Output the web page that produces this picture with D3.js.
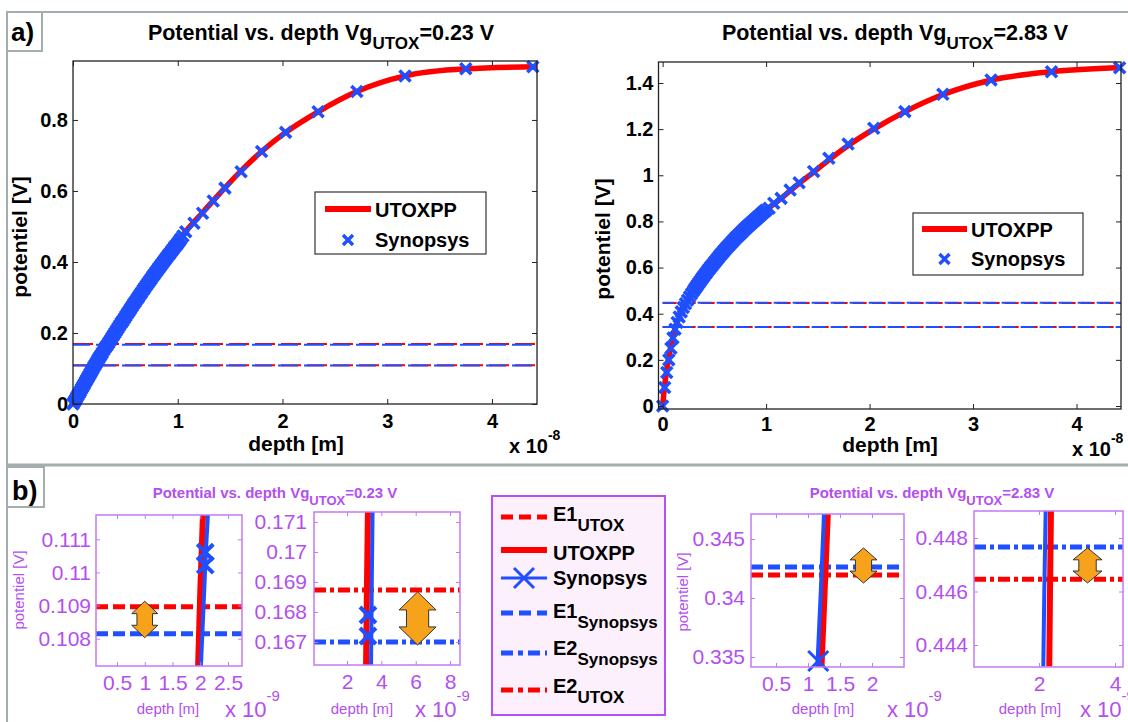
<!DOCTYPE html>
<html>
<head>
<meta charset="utf-8">
<script src="https://cdn.jsdelivr.net/npm/d3@7"></script>
<style>
  body { margin: 0; background: #fff; }
</style>
</head>
<body>
<svg id="fig" width="1128" height="722"></svg>
<script>
// ---------- data, panel a) left : Vg_UTOX = 0.23 V (depth in 1e-8 m, potential in V)
var utoxDepthL = [0, 0.1, 0.21, 0.33, 0.4, 0.5, 0.62, 0.75, 0.86, 1.0, 1.08, 1.24, 1.45, 1.6, 1.8, 2.03, 2.34, 2.71, 3.17, 3.75, 4.43];
var utoxPotL = [0, 0.052, 0.110, 0.168, 0.200, 0.247, 0.300, 0.356, 0.402, 0.457, 0.487, 0.540, 0.609, 0.655, 0.711, 0.765, 0.823, 0.880, 0.924, 0.944, 0.950];
var synDepthL = [0, 0.008, 0.016, 0.024, 0.032, 0.04, 0.05, 0.06, 0.07, 0.08, 0.09, 0.10, 0.11, 0.12, 0.13, 0.14, 0.15, 0.16, 0.17, 0.18,
  0.19, 0.20, 0.21, 0.22, 0.23, 0.24, 0.25, 0.265, 0.28, 0.295, 0.31, 0.325, 0.34, 0.355, 0.37, 0.385, 0.40, 0.415, 0.43, 0.445,
  0.46, 0.475, 0.49, 0.505, 0.52, 0.535, 0.55, 0.565, 0.58, 0.595, 0.61, 0.625, 0.64, 0.655, 0.67, 0.685, 0.70, 0.715, 0.73, 0.745,
  0.76, 0.775, 0.79, 0.805, 0.82, 0.835, 0.85, 0.865, 0.88, 0.895, 0.91, 0.925, 0.94, 0.955, 0.97, 0.985, 1.00, 1.015, 1.03, 1.05,
  1.076, 1.155, 1.237, 1.339, 1.451, 1.605, 1.80, 2.03, 2.34, 2.71, 3.17, 3.75, 4.39];
var synPotL = [0, 0.004, 0.008, 0.012, 0.017, 0.021, 0.026, 0.031, 0.036, 0.042, 0.047, 0.052, 0.057, 0.063, 0.068, 0.073, 0.078, 0.084, 0.089, 0.094,
  0.099, 0.105, 0.110, 0.115, 0.120, 0.125, 0.130, 0.137, 0.144, 0.152, 0.159, 0.165, 0.172, 0.179, 0.186, 0.193, 0.200, 0.207, 0.214, 0.221,
  0.228, 0.234, 0.241, 0.248, 0.255, 0.261, 0.268, 0.275, 0.282, 0.288, 0.295, 0.301, 0.308, 0.314, 0.321, 0.327, 0.334, 0.340, 0.346, 0.352,
  0.359, 0.365, 0.371, 0.377, 0.383, 0.389, 0.395, 0.401, 0.407, 0.413, 0.419, 0.424, 0.430, 0.436, 0.442, 0.447, 0.453, 0.459, 0.465, 0.473,
  0.485, 0.509, 0.537, 0.572, 0.608, 0.654, 0.711, 0.765, 0.823, 0.880, 0.924, 0.944, 0.950];
var e1UtoxL = 0.10896, e1SynL = 0.10815, e2UtoxL = 0.16873, e2SynL = 0.16700;

// ---------- data, panel a) right : Vg_UTOX = 2.83 V
var utoxDepthR = [0, 0.02, 0.04, 0.06, 0.08, 0.1, 0.125, 0.15, 0.185, 0.225, 0.28, 0.34, 0.42, 0.5, 0.58, 0.654, 0.75, 0.85, 0.94, 1.03,
  1.145, 1.232, 1.32, 1.46, 1.61, 1.79, 2.04, 2.34, 2.71, 3.17, 3.76, 4.43];
var utoxPotR = [0, 0.09, 0.16, 0.215, 0.26, 0.30, 0.342, 0.375, 0.413, 0.447, 0.487, 0.527, 0.577, 0.623, 0.666, 0.704, 0.748, 0.79, 0.826, 0.86,
  0.90, 0.933, 0.965, 1.014, 1.068, 1.128, 1.2, 1.275, 1.35, 1.412, 1.449, 1.467];
var synDepthR = [0, 0.02, 0.04, 0.06, 0.08, 0.1, 0.12, 0.14, 0.16, 0.18, 0.2, 0.22, 0.24, 0.26, 0.28,
  0.3, 0.3125, 0.325, 0.3375, 0.35, 0.3625, 0.375, 0.3875, 0.4, 0.4125, 0.425, 0.4375, 0.45, 0.4625, 0.475, 0.4875,
  0.5, 0.5125, 0.525, 0.5375, 0.55, 0.5625, 0.575, 0.5875, 0.6, 0.6125, 0.625, 0.6375, 0.65, 0.6625, 0.675, 0.6875,
  0.7, 0.7125, 0.725, 0.7375, 0.75, 0.7625, 0.775, 0.7875, 0.8, 0.8125, 0.825, 0.8375, 0.85, 0.8625, 0.875, 0.8875,
  0.9, 0.9125, 0.925, 0.9375, 0.95, 0.9625, 0.975, 0.9875, 1.0,
  1.029, 1.074, 1.145, 1.232, 1.319, 1.459, 1.606, 1.792, 2.04, 2.341, 2.708, 3.174, 3.758, 4.417];
var synPotR = [0, 0.08, 0.145, 0.20, 0.25, 0.295, 0.333, 0.362, 0.386, 0.408, 0.427, 0.443, 0.458, 0.473, 0.487,
  0.500, 0.509, 0.517, 0.525, 0.533, 0.541, 0.549, 0.557, 0.564, 0.572, 0.579, 0.587, 0.594, 0.601, 0.608, 0.615,
  0.622, 0.629, 0.636, 0.643, 0.650, 0.657, 0.663, 0.670, 0.676, 0.683, 0.689, 0.695, 0.701, 0.707, 0.713, 0.719,
  0.725, 0.731, 0.736, 0.742, 0.747, 0.753, 0.758, 0.764, 0.769, 0.775, 0.780, 0.785, 0.790, 0.795, 0.800, 0.805,
  0.810, 0.815, 0.820, 0.825, 0.830, 0.835, 0.840, 0.845, 0.849,
  0.857, 0.879, 0.900, 0.936, 0.968, 1.016, 1.074, 1.136, 1.204, 1.276, 1.351, 1.413, 1.449, 1.466];
var e1UtoxR = 0.34195, e1SynR = 0.34263, e2UtoxR = 0.44646, e2SynR = 0.44766;

var xTicksMain = [0, 1, 2, 3, 4];
var yTicksMainL = [0, 0.2, 0.4, 0.6, 0.8];
var yTicksMainR = [0, 0.2, 0.4, 0.6, 0.8, 1, 1.2, 1.4];

// ---------- data, panel b) zooms (depth in 1e-9 m)
var zoomXTicks = [[0.5, 1, 1.5, 2, 2.5], [2, 4, 6, 8], [0.5, 1, 1.5, 2], [2, 4]];
var zoomYTicks = [[0.108, 0.109, 0.11, 0.111], [0.167, 0.168, 0.169, 0.17, 0.171], [0.335, 0.34, 0.345], [0.444, 0.446, 0.448]];
var zoomUtoxDepth = [[1.96, 2.0, 2.05], [3.11, 3.16, 3.22], [1.21, 1.26, 1.31], [2.27, 2.29, 2.315]];
var zoomUtoxPot = [[0.1071, 0.1094, 0.1118], [0.1662, 0.1688, 0.1714], [0.3341, 0.3406, 0.3472], [0.4432, 0.4461, 0.4491]];
var zoomSynDepth = [[2.01, 2.06, 2.09, 2.10, 2.14], [3.40, 3.44, 3.49], [1.145, 1.20, 1.25], [2.113, 2.14, 2.176]];
var zoomSynPot = [[0.1071, 0.1090, 0.1102, 0.1106, 0.1118], [0.1662, 0.1688, 0.1714], [0.3341, 0.3406, 0.3472], [0.4432, 0.4461, 0.4491]];
var zoomSynMarkDepth = [[2.09, 2.09], [3.22, 3.22], [1.16], []];
var zoomSynMarkPot = [[0.11061, 0.11022], [0.1679, 0.1672], [0.33466], []];
// double arrows marking the gap between the two levels
var arrowDepth = [1.0, 6.11, 1.867, 3.276];
var arrowTop = [0.10913, 0.16867, 0.34424, 0.44763];
var arrowBottom = [0.10803, 0.1669, 0.34127, 0.44632];

var legendNames = ["E1", "UTOXPP", "Synopsys", "E1", "E2", "E2"];
var legendSubs = ["UTOX", "", "", "Synopsys", "Synopsys", "UTOX"];

// ---------- style
var FONT = "'Liberation Sans', Arial, Helvetica, sans-serif";
var RED = "#ff0000", BLUE = "#1f4fff", MAG = "#b34ff0", MAGBOX = "#c27af4";
var ORANGE = "#f7a21b", FRAME = "#a3adad";

var svg = d3.select("#fig").attr("font-family", FONT);
svg.append("rect").attr("width", 1128).attr("height", 722).attr("fill", "#fff");

function label(g, x, y, parts, o) {
    var t = g.append("text")
        .attr("x", x).attr("y", y)
        .attr("font-size", o.size)
        .attr("font-weight", o.bold ? "bold" : "normal")
        .attr("fill", o.color || "#000")
        .attr("text-anchor", o.anchor || "start");
    if (o.rotate) t.attr("transform", "rotate(-90," + x + "," + y + ")");
    var shift = 0;
    parts.forEach(function (p) {
        var s = t.append("tspan").text(p.t);
        var want = p.sub ? o.subShift : (p.sup ? -o.supShift : 0);
        if (want !== shift) { s.attr("dy", want - shift); shift = want; }
        if (p.sub || p.sup) s.attr("font-size", o.subSize);
    });
    return t;
}

function xMark(size) {
    return "M" + (-size) + "," + (-size) + "L" + size + "," + size + "M" + (-size) + "," + size + "L" + size + "," + (-size);
}

function zip(a, b) { return a.map(function (v, i) { return [v, b[i]]; }); }

// ---------- frames
svg.append("line").attr("x1", 7).attr("y1", 12).attr("x2", 1128).attr("y2", 12)
    .attr("stroke", FRAME).attr("stroke-width", 2);
svg.append("line").attr("x1", 7).attr("y1", 12).attr("x2", 7).attr("y2", 722)
    .attr("stroke", FRAME).attr("stroke-width", 2);
svg.append("line").attr("x1", 7).attr("y1", 465).attr("x2", 1128).attr("y2", 465)
    .attr("stroke", FRAME).attr("stroke-width", 3);
svg.append("rect").attr("x", 7).attr("y", 12).attr("width", 35).attr("height", 39)
    .attr("fill", "#fff").attr("stroke", FRAME).attr("stroke-width", 2);
svg.append("text").attr("x", 11).attr("y", 41).attr("font-size", 26).attr("font-weight", "bold").text("a)");
svg.append("rect").attr("x", 7).attr("y", 467).attr("width", 37).attr("height", 40)
    .attr("fill", "#fff").attr("stroke", FRAME).attr("stroke-width", 2);
svg.append("text").attr("x", 12).attr("y", 500).attr("font-size", 27).attr("font-weight", "bold").text("b)");

// ---------- main plots
var mainPanels = [
    { id: "L", left: 73, right: 537, top: 61, bottom: 404, xDomain: [0, 4.43], yDomain: [0, 0.966],
      yTicks: yTicksMainL, utoxD: utoxDepthL, utoxP: utoxPotL, synD: synDepthL, synP: synPotL,
      eUtox: [e1UtoxL, e2UtoxL], eSyn: [e1SynL, e2SynL], dash: "20 6", vg: "=0.23 V", padX: 10,
      titleX: 321, ylabX: 27, ylabY: 237, xlabX: 296, xlabY: 451, expX: 509, expY: 453,
      leg: { x: 315, y: 192, w: 171, h: 62, r1: 209, r2: 240, sx: 325, ex: 371, tx: 375 } },
    { id: "R", left: 658.5, right: 1121, top: 62, bottom: 409, xDomain: [-0.04, 4.43], yDomain: [-0.013, 1.491],
      yTicks: yTicksMainR, utoxD: utoxDepthR, utoxP: utoxPotR, synD: synDepthR, synP: synPotR,
      eUtox: [e1UtoxR, e2UtoxR], eSyn: [e1SynR, e2SynR], dash: "14 5", vg: "=2.83 V", padX: 8,
      titleX: 895, ylabX: 610, ylabY: 239, xlabX: 890, xlabY: 452, expX: 1072, expY: 456,
      leg: { x: 913, y: 213, w: 170, h: 62, r1: 229, r2: 259, sx: 922, ex: 967, tx: 971 } }
];

mainPanels.forEach(function (p) {
    var x = d3.scaleLinear().domain(p.xDomain).range([p.left, p.right]);
    var y = d3.scaleLinear().domain(p.yDomain).range([p.bottom, p.top]);
    var g = svg.append("g");
    g.append("clipPath").attr("id", "clip" + p.id).append("rect")
        .attr("x", p.left).attr("y", p.top - 8).attr("width", p.right - p.left + 8).attr("height", p.bottom - p.top + 8);
    var inner = g.append("g").attr("clip-path", "url(#clip" + p.id + ")");

    // E levels, red under blue
    p.eUtox.forEach(function (v) {
        inner.append("line").attr("x1", x(0)).attr("x2", p.right).attr("y1", y(v)).attr("y2", y(v))
            .attr("stroke", RED).attr("stroke-width", 2).attr("stroke-dasharray", p.dash);
    });
    p.eSyn.forEach(function (v) {
        inner.append("line").attr("x1", x(0)).attr("x2", p.right).attr("y1", y(v)).attr("y2", y(v))
            .attr("stroke", BLUE).attr("stroke-width", 2).attr("stroke-dasharray", p.dash)
            .attr("stroke-dashoffset", 3);
    });

    var line = d3.line().x(function (d) { return x(d[0]); }).y(function (d) { return y(d[1]); })
        .curve(d3.curveMonotoneX);
    inner.append("path").datum(zip(p.utoxD, p.utoxP)).attr("d", line)
        .attr("fill", "none").attr("stroke", RED).attr("stroke-width", 5.5);

    g.selectAll("path.syn" + p.id).data(zip(p.synD, p.synP)).enter().append("path")
        .attr("class", "syn" + p.id)
        .attr("transform", function (d) { return "translate(" + x(d[0]) + "," + y(d[1]) + ")"; })
        .attr("d", xMark(5.5)).attr("stroke", BLUE).attr("stroke-width", 3.6).attr("fill", "none");

    g.append("rect").attr("x", p.left).attr("y", p.top).attr("width", p.right - p.left).attr("height", p.bottom - p.top)
        .attr("fill", "none").attr("stroke", "#222").attr("stroke-width", 1.3);

    var fmt = function (d) { return String(+d.toFixed(1)); };
    var axB = g.append("g").attr("transform", "translate(0," + p.bottom + ")")
        .call(d3.axisBottom(x).tickValues(xTicksMain).tickSizeInner(-5).tickSizeOuter(0).tickPadding(p.padX).tickFormat(fmt));
    var axL = g.append("g").attr("transform", "translate(" + p.left + ",0)")
        .call(d3.axisLeft(y).tickValues(p.yTicks).tickSizeInner(-5).tickSizeOuter(0).tickPadding(5).tickFormat(fmt));
    var axT = g.append("g").attr("transform", "translate(0," + p.top + ")")
        .call(d3.axisTop(x).tickValues(xTicksMain).tickSizeInner(-5).tickSizeOuter(0).tickFormat(""));
    var axR = g.append("g").attr("transform", "translate(" + p.right + ",0)")
        .call(d3.axisRight(y).tickValues(p.yTicks).tickSizeInner(-5).tickSizeOuter(0).tickFormat(""));
    [axB, axL, axT, axR].forEach(function (a) {
        a.attr("font-family", FONT).attr("font-size", 20).attr("font-weight", "bold");
        a.select(".domain").remove();
        a.selectAll("line").attr("stroke", "#222");
        a.selectAll("text").attr("fill", "#000");
    });

    label(g, p.titleX, 40, [{ t: "Potential vs. depth Vg" }, { t: "UTOX", sub: true }, { t: p.vg }],
        { size: 21.5, bold: true, anchor: "middle", subSize: 17, subShift: 9 });
    label(g, p.ylabX, p.ylabY, [{ t: "potentiel [V]" }], { size: 21, bold: true, anchor: "middle", rotate: true });
    label(g, p.xlabX, p.xlabY, [{ t: "depth [m]" }], { size: 21, bold: true, anchor: "middle" });
    label(g, p.expX, p.expY, [{ t: "x 10" }, { t: "-8", sup: true }],
        { size: 20, bold: true, subSize: 14, supShift: 13 });

    // legend
    var L = p.leg;
    g.append("rect").attr("x", L.x).attr("y", L.y).attr("width", L.w).attr("height", L.h)
        .attr("fill", "#fff").attr("stroke", "#333").attr("stroke-width", 1.2);
    g.append("line").attr("x1", L.sx).attr("x2", L.ex).attr("y1", L.r1).attr("y2", L.r1)
        .attr("stroke", RED).attr("stroke-width", 6);
    g.append("path").attr("transform", "translate(" + ((L.sx + L.ex) / 2) + "," + L.r2 + ")")
        .attr("d", xMark(5)).attr("stroke", BLUE).attr("stroke-width", 3.4);
    label(g, L.tx, L.r1 + 8, [{ t: "UTOXPP" }], { size: 20, bold: true });
    label(g, L.tx, L.r2 + 7, [{ t: "Synopsys" }], { size: 20, bold: true });
});

// ---------- zoom plots (panel b)
var zoomPanels = [
    { left: 96, right: 242, top: 515, bottom: 666, xDomain: [0.122, 2.752], yDomain: [0.107174, 0.111735],
      eUtox: e1UtoxL, eSyn: e1SynL, dash: "12 5", pad: 5, mark: 8, markW: 4 },
    { left: 314, right: 460, top: 512, bottom: 665, xDomain: [0.078, 8.58], yDomain: [0.166233, 0.171333],
      eUtox: e2UtoxL, eSyn: e2SynL, dash: "12 4 4 4", pad: 7, mark: 8, markW: 4 },
    { left: 751, right: 904, top: 514, bottom: 667, xDomain: [0.109, 2.5], yDomain: [0.334153, 0.347119],
      eUtox: e1UtoxR, eSyn: e1SynR, dash: "12 5", pad: 6, mark: 10, markW: 3 },
    { left: 974, right: 1123, top: 511, bottom: 667, xDomain: [0.289, 4.21], yDomain: [0.443178, 0.449009],
      eUtox: e2UtoxR, eSyn: e2SynR, dash: "12 4 4 4", pad: 6, mark: 8, markW: 4 }
];
var arrowWidth = [26, 37, 27, 29];

zoomPanels.forEach(function (p, i) {
    var x = d3.scaleLinear().domain(p.xDomain).range([p.left, p.right]);
    var y = d3.scaleLinear().domain(p.yDomain).range([p.bottom, p.top]);
    var g = svg.append("g");
    g.append("clipPath").attr("id", "zclip" + i).append("rect")
        .attr("x", p.left).attr("y", p.top).attr("width", p.right - p.left).attr("height", p.bottom - p.top);
    var inner = g.append("g").attr("clip-path", "url(#zclip" + i + ")");

    [[p.eUtox, RED], [p.eSyn, BLUE]].forEach(function (e) {
        inner.append("line").attr("x1", p.left).attr("x2", p.right).attr("y1", y(e[0])).attr("y2", y(e[0]))
            .attr("stroke", e[1]).attr("stroke-width", 5).attr("stroke-dasharray", p.dash);
    });

    var line = d3.line().x(function (d) { return x(d[0]); }).y(function (d) { return y(d[1]); });
    inner.append("path").datum(zip(zoomUtoxDepth[i], zoomUtoxPot[i])).attr("d", line)
        .attr("fill", "none").attr("stroke", RED).attr("stroke-width", 6);
    inner.append("path").datum(zip(zoomSynDepth[i], zoomSynPot[i])).attr("d", line)
        .attr("fill", "none").attr("stroke", BLUE).attr("stroke-width", 4);
    g.selectAll("path.zm" + i).data(zip(zoomSynMarkDepth[i], zoomSynMarkPot[i])).enter().append("path")
        .attr("class", "zm" + i)
        .attr("transform", function (d) { return "translate(" + x(d[0]) + "," + y(d[1]) + ")"; })
        .attr("d", xMark(p.mark)).attr("stroke", BLUE).attr("stroke-width", p.markW);

    // orange double arrow
    var cx = x(arrowDepth[i]), y1 = y(arrowTop[i]), y2 = y(arrowBottom[i]), w = arrowWidth[i];
    var hh = (y2 - y1) * 0.34, sw = w * 0.3;
    var pts = [[cx, y1], [cx + w / 2, y1 + hh], [cx + sw, y1 + hh], [cx + sw, y2 - hh], [cx + w / 2, y2 - hh], [cx, y2],
        [cx - w / 2, y2 - hh], [cx - sw, y2 - hh], [cx - sw, y1 + hh], [cx - w / 2, y1 + hh]];
    g.append("path").attr("d", "M" + pts.join("L") + "Z")
        .attr("fill", ORANGE).attr("stroke", "#333").attr("stroke-width", 1);

    g.append("rect").attr("x", p.left).attr("y", p.top).attr("width", p.right - p.left).attr("height", p.bottom - p.top)
        .attr("fill", "none").attr("stroke", MAGBOX).attr("stroke-width", 1.5);

    var fmt = function (d) { return String(+d.toFixed(3)); };
    var axB = g.append("g").attr("transform", "translate(0," + p.bottom + ")")
        .call(d3.axisBottom(x).tickValues(zoomXTicks[i]).tickSizeInner(-4).tickSizeOuter(0).tickPadding(9).tickFormat(fmt));
    var axL = g.append("g").attr("transform", "translate(" + p.left + ",0)")
        .call(d3.axisLeft(y).tickValues(zoomYTicks[i]).tickSizeInner(-4).tickSizeOuter(0).tickPadding(p.pad).tickFormat(fmt));
    var axT = g.append("g").attr("transform", "translate(0," + p.top + ")")
        .call(d3.axisTop(x).tickValues(zoomXTicks[i]).tickSizeInner(-4).tickSizeOuter(0).tickFormat(""));
    var axR = g.append("g").attr("transform", "translate(" + p.right + ",0)")
        .call(d3.axisRight(y).tickValues(zoomYTicks[i]).tickSizeInner(-4).tickSizeOuter(0).tickFormat(""));
    [axB, axL, axT, axR].forEach(function (a) {
        a.attr("font-family", FONT).attr("font-size", 21);
        a.select(".domain").remove();
        a.selectAll("line").attr("stroke", MAGBOX);
        a.selectAll("text").attr("fill", MAG);
    });
});

// zoom labels
var zb = svg.append("g");
label(zb, 275, 498, [{ t: "Potential vs. depth Vg" }, { t: "UTOX", sub: true }, { t: "=0.23 V" }],
    { size: 15, bold: true, color: MAG, anchor: "middle", subSize: 13, subShift: 7 });
label(zb, 932, 498, [{ t: "Potential vs. depth Vg" }, { t: "UTOX", sub: true }, { t: "=2.83 V" }],
    { size: 15, bold: true, color: MAG, anchor: "middle", subSize: 13, subShift: 7 });
label(zb, 24, 590, [{ t: "potentiel [V]" }], { size: 15, color: MAG, anchor: "middle", rotate: true });
label(zb, 688, 592, [{ t: "potentiel [V]" }], { size: 15, color: MAG, anchor: "middle", rotate: true });
[[168, 225], [362, 415], [823, 887], [1030, 1080]].forEach(function (d) {
    label(zb, d[0], 714, [{ t: "depth [m]" }], { size: 15, color: MAG, anchor: "middle" });
    label(zb, d[1], 717, [{ t: "x 10" }, { t: "-9", sup: true }], { size: 22, color: MAG, subSize: 15, supShift: 16 });
});

// ---------- legend of panel b
var lg = svg.append("g");
lg.append("rect").attr("x", 492).attr("y", 496).attr("width", 173).attr("height", 219)
    .attr("fill", "#fdf0fd").attr("stroke", "#b650f2").attr("stroke-width", 2);
var rowY = [517, 550, 578, 613, 653, 690];
var rowBase = [521, 560, 585, 618, 655, 693];
var rowColor = [RED, RED, BLUE, BLUE, BLUE, RED];
var rowDash = ["12 6", null, null, "12 6", "12 5 5 5", "12 5 5 5"];
legendNames.forEach(function (name, i) {
    var l = lg.append("line").attr("x1", 501).attr("x2", 547).attr("y1", rowY[i]).attr("y2", rowY[i])
        .attr("stroke", rowColor[i]).attr("stroke-width", i === 1 ? 6 : (i === 2 ? 3 : 5));
    if (rowDash[i]) l.attr("stroke-dasharray", rowDash[i]);
    if (i === 2) {
        lg.append("path").attr("transform", "translate(524," + rowY[i] + ")")
            .attr("d", xMark(10)).attr("stroke", BLUE).attr("stroke-width", 3);
    }
    var parts = [{ t: name }];
    if (legendSubs[i]) parts.push({ t: legendSubs[i], sub: true });
    label(lg, 553, rowBase[i], parts, { size: 20, bold: true, subSize: 17, subShift: 10 });
});
</script>
</body>
</html>
